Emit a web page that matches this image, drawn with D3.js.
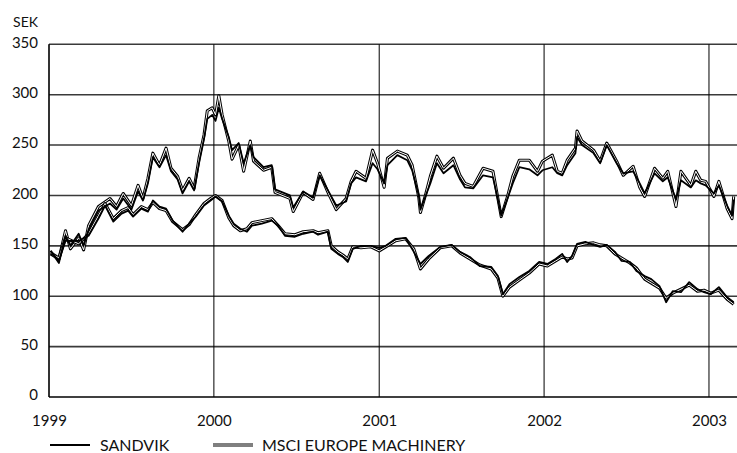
<!DOCTYPE html>
<html>
<head>
<meta charset="utf-8">
<script src="https://cdn.jsdelivr.net/npm/d3@7"></script>
<style>
  body { margin: 0; background: #fff; }
  text { font-family: Lato, "Open Sans", sans-serif; fill: #111; }
</style>
</head>
<body>
<script>
let width = 737;
let height = 453;

// upper pair
var upperDates = [1999.01, 1999.06, 1999.10, 1999.13, 1999.18, 1999.21, 1999.24, 1999.30, 1999.37, 1999.41,
  1999.45, 1999.50, 1999.54, 1999.57, 1999.60, 1999.63, 1999.67, 1999.71, 1999.74, 1999.78,
  1999.81, 1999.85, 1999.88, 1999.91, 1999.94, 1999.96, 1999.99, 2000.01, 2000.03, 2000.05,
  2000.09, 2000.11, 2000.15, 2000.18, 2000.22, 2000.24, 2000.30, 2000.35, 2000.37, 2000.46,
  2000.48, 2000.54, 2000.60, 2000.64, 2000.69, 2000.74, 2000.80, 2000.83, 2000.86, 2000.92,
  2000.96, 2000.99, 2001.03, 2001.05, 2001.11, 2001.17, 2001.20, 2001.24, 2001.25, 2001.28,
  2001.31, 2001.35, 2001.39, 2001.45, 2001.49, 2001.52, 2001.57, 2001.63, 2001.69, 2001.72,
  2001.74, 2001.78, 2001.81, 2001.85, 2001.91, 2001.96, 2001.99, 2002.05, 2002.08, 2002.11,
  2002.14, 2002.19, 2002.20, 2002.23, 2002.30, 2002.34, 2002.38, 2002.44, 2002.48, 2002.54,
  2002.58, 2002.61, 2002.67, 2002.72, 2002.75, 2002.80, 2002.83, 2002.89, 2002.92, 2002.95,
  2002.98, 2003.03, 2003.06, 2003.11, 2003.14, 2003.15];
var upperSandvik = [145, 133, 160, 150, 162, 150, 166, 185, 192, 186,
  197, 186, 204, 195, 212, 238, 228, 240, 224, 216,
  202, 214, 205, 232, 256, 276, 280, 274, 287, 276,
  258, 245, 252, 232, 250, 238, 228, 230, 206, 200,
  188, 204, 198, 220, 205, 190, 194, 212, 218, 214,
  232, 226, 212, 230, 240, 235, 225, 200, 186, 199,
  212, 232, 222, 230, 216, 208, 207, 220, 218, 196,
  180, 198, 212, 228, 226, 220, 225, 228, 222, 220,
  230, 242, 258, 250, 242, 232, 250, 232, 222, 224,
  212, 202, 222, 214, 218, 196, 215, 208, 215, 212,
  210, 202, 210, 190, 180, 196];
var upperMsci = [142, 137, 165, 147, 158, 146, 170, 189, 197, 189,
  202, 190, 210, 197, 217, 242, 230, 247, 227, 219,
  205, 217, 207, 237, 260, 284, 287, 280, 299, 280,
  254, 236, 250, 224, 254, 234, 225, 228, 203, 197,
  184, 203, 196, 222, 203, 186, 197, 214, 224, 217,
  245, 232, 208, 237, 244, 240, 230, 198, 183, 200,
  219, 239, 227, 237, 220, 212, 209, 227, 224, 197,
  179, 200, 219, 235, 235, 224, 234, 240, 224, 222,
  235, 247, 264, 254, 245, 234, 252, 234, 220, 229,
  208, 199, 227, 217, 224, 189, 224, 210, 224, 215,
  214, 199, 214, 187, 177, 199];

// lower pair
var lowerDates = [1999.01, 1999.06, 1999.10, 1999.18, 1999.24, 1999.30, 1999.34, 1999.39, 1999.44, 1999.48,
  1999.51, 1999.56, 1999.60, 1999.63, 1999.67, 1999.71, 1999.75, 1999.81, 1999.85, 1999.89,
  1999.94, 1999.98, 2000.01, 2000.05, 2000.09, 2000.12, 2000.16, 2000.20, 2000.23, 2000.29,
  2000.35, 2000.39, 2000.43, 2000.49, 2000.54, 2000.60, 2000.63, 2000.69, 2000.71, 2000.75,
  2000.78, 2000.81, 2000.84, 2000.89, 2000.95, 2001.00, 2001.04, 2001.10, 2001.16, 2001.21,
  2001.25, 2001.30, 2001.37, 2001.44, 2001.49, 2001.55, 2001.61, 2001.68, 2001.72, 2001.75,
  2001.79, 2001.85, 2001.91, 2001.97, 2002.02, 2002.07, 2002.11, 2002.14, 2002.17, 2002.20,
  2002.25, 2002.30, 2002.34, 2002.38, 2002.43, 2002.47, 2002.52, 2002.56, 2002.61, 2002.65,
  2002.70, 2002.74, 2002.78, 2002.83, 2002.88, 2002.93, 2002.97, 2003.01, 2003.06, 2003.11,
  2003.15];
var lowerSandvik = [145, 135, 155, 155, 160, 177, 190, 174, 182, 185,
  179, 187, 184, 195, 189, 187, 175, 164, 172, 179,
  190, 195, 199, 194, 180, 172, 167, 164, 170, 172,
  175, 170, 160, 159, 162, 164, 161, 164, 147, 142,
  139, 134, 147, 150, 150, 148, 150, 157, 158, 144,
  132, 140, 149, 151, 144, 139, 130, 129, 120, 102,
  112, 119, 125, 134, 132, 137, 142, 134, 140, 152,
  154, 151, 149, 151, 144, 135, 134, 125, 120, 117,
  110, 94, 105, 104, 114, 107, 104, 102, 109, 99,
  94];
var lowerMsci = [143, 138, 158, 152, 162, 180, 192, 177, 185, 188,
  181, 189, 186, 193, 187, 185, 174, 166, 171, 181,
  192, 197, 200, 195, 178, 170, 165, 167, 173, 175,
  177, 170, 162, 161, 164, 165, 163, 165, 150, 144,
  141, 137, 149, 148, 149, 145, 149, 155, 157, 147,
  127, 137, 148, 150, 143, 137, 131, 127, 118, 100,
  109, 116, 123, 132, 130, 135, 139, 137, 138, 150,
  152, 153, 151, 150, 142, 138, 133, 128, 117, 113,
  108, 98, 103, 107, 111, 105, 106, 103, 106, 97,
  92];

var yTicks = [0, 50, 100, 150, 200, 250, 300, 350];
var xTicks = [1999, 2000, 2001, 2002, 2003];
var unitLabel = 'SEK';
var legendNames = ['SANDVIK', 'MSCI EUROPE MACHINERY'];

function toDate(y) {
  let yr = Math.floor(y);
  let start = new Date(yr, 0, 1);
  let end = new Date(yr + 1, 0, 1);
  return new Date(+start + (y - yr) * (end - start));
}

var svg = d3.select('body')
            .append('svg')
            .attr('width', width)
            .attr('height', height);

var x = d3.scaleTime().domain([toDate(1999), toDate(2003.17)]).range([49, 737]);
var y = d3.scaleLinear().domain([0, 350]).range([397, 44.3]);

// horizontal grid
svg.selectAll('.hgrid').data(yTicks).enter().append('line')
  .attr('x1', 49).attr('x2', width)
  .attr('y1', d => y(d)).attr('y2', d => y(d))
  .attr('stroke', d => d === 0 ? '#000' : '#3a3a3a')
  .attr('stroke-width', 1.6);

// vertical year lines
svg.selectAll('.vgrid').data(xTicks).enter().append('line')
  .attr('x1', d => x(toDate(d))).attr('x2', d => x(toDate(d)))
  .attr('y1', y(350)).attr('y2', y(0))
  .attr('stroke', '#000')
  .attr('stroke-width', 1);

// y labels
var yAxis = svg.append('g').attr('transform', 'translate(38,-2)')
  .call(d3.axisLeft(y).tickValues(yTicks).tickSize(0).tickPadding(0));
yAxis.select('.domain').remove();
yAxis.selectAll('text').style('font-family', 'Lato, sans-serif').style('font-size', '15px').attr('fill', '#111');

svg.append('text').attr('x', 38).attr('y', 27).attr('text-anchor', 'end')
  .style('font-size', '14px').text(unitLabel);

// x labels
var xAxis = svg.append('g').attr('transform', 'translate(0,' + (y(0) + 15) + ')')
  .call(d3.axisBottom(x).tickValues(xTicks.map(toDate)).tickSize(0).tickFormat(d3.timeFormat('%Y')));
xAxis.select('.domain').remove();
xAxis.selectAll('text').style('font-family', 'Lato, sans-serif').style('font-size', '15px').attr('fill', '#111');

var line = d3.line().x(d => x(toDate(d[0]))).y(d => y(d[1]));

function drawMsci(dates, values) {
  let pts = dates.map((d, i) => [d, values[i]]);
  svg.append('path').attr('d', line(pts)).attr('fill', 'none')
    .attr('stroke', '#000').attr('stroke-width', 3).attr('stroke-linejoin', 'round');
  svg.append('path').attr('d', line(pts)).attr('fill', 'none')
    .attr('stroke', '#fff').attr('stroke-width', 1).attr('stroke-linejoin', 'round');
}

function drawSandvik(dates, values) {
  let pts = dates.map((d, i) => [d, values[i]]);
  svg.append('path').attr('d', line(pts)).attr('fill', 'none')
    .attr('stroke', '#000').attr('stroke-width', 1.8).attr('stroke-linejoin', 'round');
}

drawMsci(upperDates, upperMsci);
drawMsci(lowerDates, lowerMsci);
drawSandvik(upperDates, upperSandvik);
drawSandvik(lowerDates, lowerSandvik);

// left axis line
svg.append('line').attr('x1', 49).attr('x2', 49).attr('y1', y(350)).attr('y2', y(0))
  .attr('stroke', '#000').attr('stroke-width', 1.2);

// legend
let ly = 445;
svg.append('line').attr('x1', 50).attr('x2', 90).attr('y1', ly).attr('y2', ly)
  .attr('stroke', '#000').attr('stroke-width', 2);
svg.append('text').attr('x', 100).attr('y', ly + 6).style('font-size', '16px').text(legendNames[0]);

svg.append('line').attr('x1', 213).attr('x2', 253).attr('y1', ly).attr('y2', ly)
  .attr('stroke', '#000').attr('stroke-width', 3);
svg.append('line').attr('x1', 213).attr('x2', 253).attr('y1', ly).attr('y2', ly)
  .attr('stroke', '#fff').attr('stroke-width', 1);
svg.append('text').attr('x', 262).attr('y', ly + 6).style('font-size', '16px').text(legendNames[1]);
</script>
</body>
</html>
